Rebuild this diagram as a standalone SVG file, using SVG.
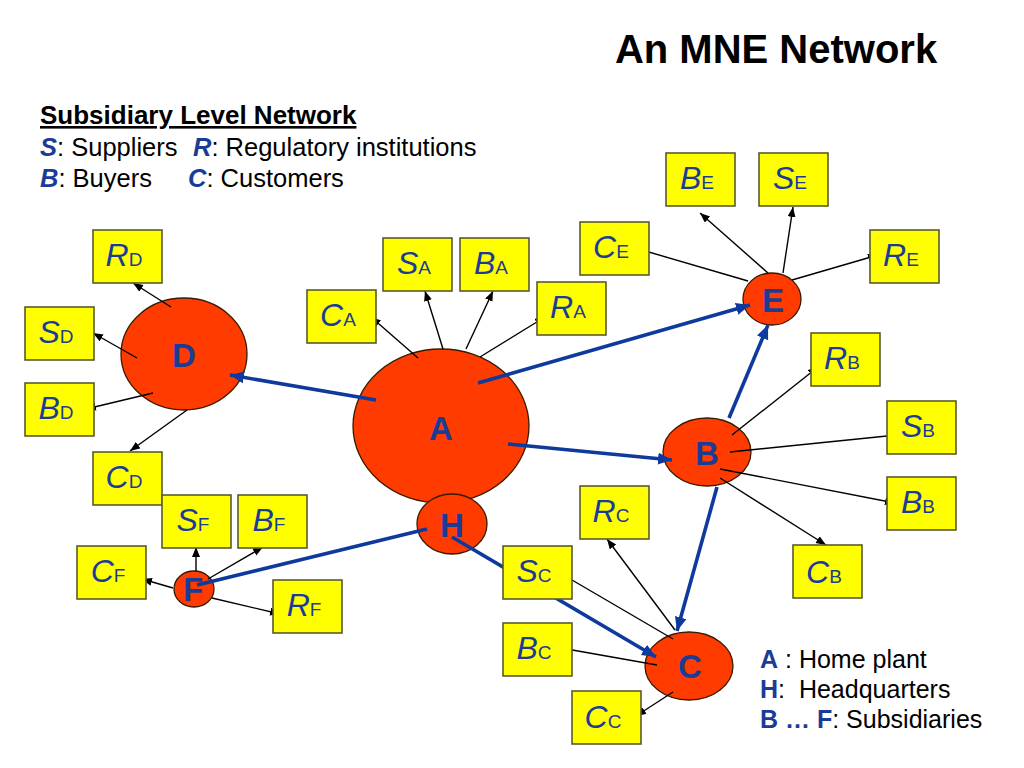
<svg xmlns="http://www.w3.org/2000/svg" width="1024" height="768" viewBox="0 0 1024 768">
<defs>
<marker id="ak" markerUnits="userSpaceOnUse" markerWidth="12" markerHeight="10" refX="10" refY="4" orient="auto"><path d="M0,0 L10,4 L0,8 z" fill="#000"/></marker>
<marker id="ab" markerUnits="userSpaceOnUse" markerWidth="16" markerHeight="14" refX="14" refY="6" orient="auto"><path d="M0,0 L14,6 L0,12 z" fill="#0D3A9C"/></marker>
</defs>
<style>
text{font-family:"Liberation Sans",Arial,sans-serif}
.node ellipse{fill:#FF3B00;stroke:#3a1a00;stroke-width:1.3}
.box rect{fill:#FFFF00;stroke:#5a5a30;stroke-width:1.6}
.lbl{fill:#1A3C96;text-anchor:middle}
.m{font-size:32px;font-style:italic}
.s{font-size:19px}
.nl{font-size:33px;font-weight:bold;fill:#1A3C96;text-anchor:middle}
.k{stroke:#000;stroke-width:1.4;fill:none}
.ka{marker-end:url(#ak)}
.b{stroke:#0D3A9C;stroke-width:3.6;fill:none}
.ba{marker-end:url(#ab)}
.em{fill:#1A3C96;font-weight:bold}
</style>
<rect width="1024" height="768" fill="#fff"/>
<text x="776" y="63" font-size="40" font-weight="bold" text-anchor="middle">An MNE Network</text>
<g id="legend-top">
<text x="40" y="124" font-weight="bold" text-decoration="underline" font-size="26">Subsidiary Level Network</text>
<text x="40" y="156" font-size="25.5"><tspan class="em" font-style="italic">S</tspan>: Suppliers</text>
<text x="193" y="156" font-size="25.5"><tspan class="em" font-style="italic">R</tspan>: Regulatory institutions</text>
<text x="40" y="187" font-size="25.5"><tspan class="em" font-style="italic">B</tspan>: Buyers</text>
<text x="188" y="187" font-size="25.5"><tspan class="em" font-style="italic">C</tspan>: Customers</text>
</g>
<g id="legend-bottom">
<text x="760" y="668" font-size="25"><tspan class="em">A</tspan> : Home plant</text>
<text x="760" y="698" font-size="25" xml:space="preserve"><tspan class="em">H</tspan>:  Headquarters</text>
<text x="760" y="728" font-size="25"><tspan class="em">B … F</tspan>: Subsidiaries</text>
</g>
<g id="nodeA" class="node"><ellipse cx="441" cy="426" rx="88" ry="77"/></g>
<g id="nodeH" class="node"><ellipse cx="452" cy="524" rx="35" ry="30"/></g>
<g id="nodeD" class="node"><ellipse cx="184" cy="354" rx="63" ry="56"/></g>
<g id="nodeE" class="node"><ellipse cx="772" cy="299" rx="29" ry="26"/></g>
<g id="nodeB" class="node"><ellipse cx="707" cy="452" rx="44" ry="34"/></g>
<g id="nodeC" class="node"><ellipse cx="689" cy="666" rx="44" ry="34"/></g>
<g id="nodeF" class="node"><ellipse cx="194" cy="589" rx="20" ry="18"/></g>
<g id="connectors">
<line class="k ka" x1="171" y1="307" x2="133" y2="283"/>
<line class="k ka" x1="137" y1="358" x2="93" y2="333"/>
<line class="k ka" x1="153" y1="393" x2="86" y2="409"/>
<line class="k ka" x1="187" y1="410" x2="130" y2="451"/>
<line class="k ka" x1="418" y1="358" x2="371" y2="317"/>
<line class="k ka" x1="443" y1="349" x2="425" y2="291"/>
<line class="k ka" x1="466" y1="349" x2="493" y2="291"/>
<line class="k ka" x1="480" y1="357" x2="545" y2="317"/>
<line class="k ka" x1="748" y1="281" x2="635" y2="248"/>
<line class="k ka" x1="768" y1="273" x2="700" y2="213"/>
<line class="k ka" x1="783" y1="273" x2="793" y2="207"/>
<line class="k ka" x1="792" y1="280" x2="878" y2="255"/>
<line class="k ka" x1="732" y1="435" x2="818" y2="367"/>
<line class="k" x1="730" y1="452" x2="887" y2="436"/>
<line class="k ka" x1="720" y1="469" x2="895" y2="503"/>
<line class="k ka" x1="720" y1="478" x2="826" y2="545"/>
<line class="k ka" x1="675" y1="630" x2="607" y2="539"/>
<line class="k" x1="673" y1="639" x2="572" y2="580"/>
<line class="k ka" x1="657" y1="665" x2="561" y2="648"/>
<line class="k ka" x1="673" y1="692" x2="636" y2="716"/>
<line class="k ka" x1="196" y1="571" x2="196" y2="547"/>
<line class="k ka" x1="208" y1="579" x2="263" y2="547"/>
<line class="k ka" x1="173" y1="588" x2="142" y2="579"/>
<line class="k ka" x1="212" y1="598" x2="280" y2="614"/>
<line class="b ba" x1="376" y1="400" x2="230" y2="375"/>
<line class="b ba" x1="478" y1="383" x2="750" y2="305"/>
<line class="b ba" x1="508" y1="444" x2="672" y2="460"/>
<line class="b ba" x1="729" y1="418" x2="768" y2="325"/>
<line class="b ba" x1="717" y1="487" x2="677" y2="631"/>
<line class="b ba" x1="452" y1="537" x2="656" y2="657"/>
<line class="b" x1="427" y1="529" x2="197" y2="585"/>
</g>
<g id="nodeA-label"><text class="nl" x="441" y="440" font-size="34">A</text></g>
<g id="nodeH-label"><text class="nl" x="452" y="537">H</text></g>
<g id="nodeD-label"><text class="nl" x="184" y="367">D</text></g>
<g id="nodeE-label"><text class="nl" x="773" y="312">E</text></g>
<g id="nodeB-label"><text class="nl" x="707" y="465">B</text></g>
<g id="nodeC-label"><text class="nl" x="690" y="678">C</text></g>
<g id="nodeF-label"><text class="nl" x="193" y="601" font-size="30">F</text></g>
<g id="RD" class="box"><rect x="93" y="230" width="69" height="53"/><text class="lbl" x="124" y="266"><tspan class="m">R</tspan><tspan class="s">D</tspan></text></g>
<g id="SD" class="box"><rect x="25" y="307" width="69" height="53"/><text class="lbl" x="56" y="343"><tspan class="m">S</tspan><tspan class="s">D</tspan></text></g>
<g id="BD" class="box"><rect x="25" y="383" width="69" height="53"/><text class="lbl" x="56" y="419"><tspan class="m">B</tspan><tspan class="s">D</tspan></text></g>
<g id="CD" class="box"><rect x="93" y="452" width="69" height="53"/><text class="lbl" x="124" y="488"><tspan class="m">C</tspan><tspan class="s">D</tspan></text></g>
<g id="CA" class="box"><rect x="307" y="290" width="69" height="53"/><text class="lbl" x="338" y="326"><tspan class="m">C</tspan><tspan class="s">A</tspan></text></g>
<g id="SA" class="box"><rect x="383" y="238" width="69" height="53"/><text class="lbl" x="414" y="274"><tspan class="m">S</tspan><tspan class="s">A</tspan></text></g>
<g id="BA" class="box"><rect x="460" y="238" width="69" height="53"/><text class="lbl" x="491" y="274"><tspan class="m">B</tspan><tspan class="s">A</tspan></text></g>
<g id="RA" class="box"><rect x="537" y="282" width="69" height="53"/><text class="lbl" x="568" y="318"><tspan class="m">R</tspan><tspan class="s">A</tspan></text></g>
<g id="BE" class="box"><rect x="666" y="153" width="69" height="53"/><text class="lbl" x="697" y="189"><tspan class="m">B</tspan><tspan class="s">E</tspan></text></g>
<g id="SE" class="box"><rect x="759" y="153" width="69" height="53"/><text class="lbl" x="790" y="189"><tspan class="m">S</tspan><tspan class="s">E</tspan></text></g>
<g id="CE" class="box"><rect x="580" y="222" width="69" height="53"/><text class="lbl" x="611" y="258"><tspan class="m">C</tspan><tspan class="s">E</tspan></text></g>
<g id="RE" class="box"><rect x="870" y="230" width="69" height="53"/><text class="lbl" x="901" y="266"><tspan class="m">R</tspan><tspan class="s">E</tspan></text></g>
<g id="RB" class="box"><rect x="811" y="333" width="69" height="53"/><text class="lbl" x="842" y="369"><tspan class="m">R</tspan><tspan class="s">B</tspan></text></g>
<g id="SB" class="box"><rect x="887" y="401" width="69" height="53"/><text class="lbl" x="918" y="437"><tspan class="m">S</tspan><tspan class="s">B</tspan></text></g>
<g id="BB" class="box"><rect x="887" y="477" width="69" height="53"/><text class="lbl" x="918" y="513"><tspan class="m">B</tspan><tspan class="s">B</tspan></text></g>
<g id="CB" class="box"><rect x="793" y="545" width="69" height="53"/><text class="lbl" x="824" y="583"><tspan class="m">C</tspan><tspan class="s">B</tspan></text></g>
<g id="RC" class="box"><rect x="580" y="486" width="69" height="53"/><text class="lbl" x="611" y="522"><tspan class="m">R</tspan><tspan class="s">C</tspan></text></g>
<g id="SC" class="box"><rect x="503" y="546" width="69" height="53"/><text class="lbl" x="534" y="582"><tspan class="m">S</tspan><tspan class="s">C</tspan></text></g>
<g id="BC" class="box"><rect x="503" y="623" width="69" height="53"/><text class="lbl" x="534" y="659"><tspan class="m">B</tspan><tspan class="s">C</tspan></text></g>
<g id="CC" class="box"><rect x="572" y="691" width="69" height="53"/><text class="lbl" x="603" y="728"><tspan class="m">C</tspan><tspan class="s">C</tspan></text></g>
<g id="SF" class="box"><rect x="162" y="495" width="69" height="53"/><text class="lbl" x="193" y="531"><tspan class="m">S</tspan><tspan class="s">F</tspan></text></g>
<g id="BF" class="box"><rect x="238" y="495" width="69" height="53"/><text class="lbl" x="269" y="531"><tspan class="m">B</tspan><tspan class="s">F</tspan></text></g>
<g id="CF" class="box"><rect x="77" y="546" width="69" height="53"/><text class="lbl" x="108" y="582"><tspan class="m">C</tspan><tspan class="s">F</tspan></text></g>
<g id="RF" class="box"><rect x="273" y="580" width="69" height="53"/><text class="lbl" x="304" y="616"><tspan class="m">R</tspan><tspan class="s">F</tspan></text></g>
</svg>
